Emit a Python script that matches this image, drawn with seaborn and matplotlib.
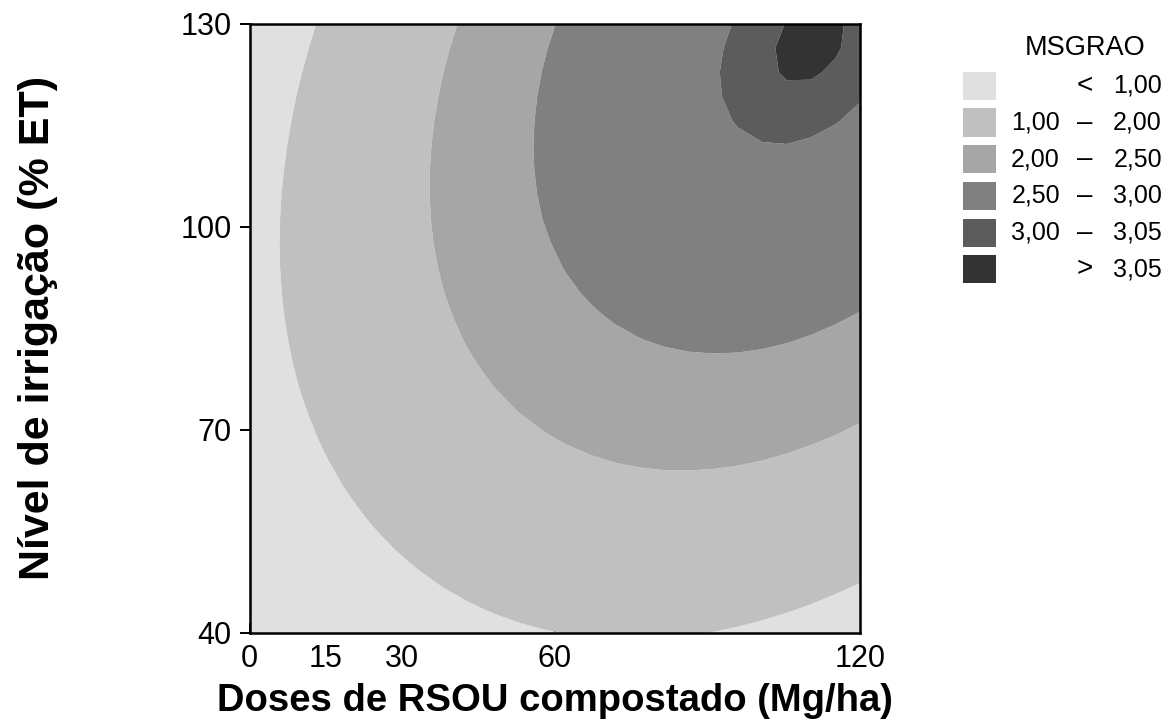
import numpy as np
import matplotlib
matplotlib.use("Agg")
import matplotlib.pyplot as plt
from matplotlib.patches import Rectangle
import seaborn as sns

# Quadratic response surface for grain dry matter (MSGRAO):
# MSGRAO = b0 + b1*D + b2*L + b3*D^2 + b4*L^2 + b5*D*L
# D = compost dose (Mg/ha), L = irrigation level (% ET)
b0 = -1.9889
b1 = 0.02549
b2 = 0.05734
b3 = -2.14e-4
b4 = -2.99e-4
b5 = 1.70e-4

dose_ticks = [0, 15, 30, 60, 120]
irrig_ticks = [40, 70, 100, 130]

level_bounds = [1.00, 2.00, 2.50, 3.00, 3.05]
band_colors = ["#e0e0e0", "#c0c0c0", "#a6a6a6", "#808080", "#5c5c5c", "#333333"]
legend_left = ["", "1,00", "2,00", "2,50", "3,00", ""]
legend_mid = ["<", "\u2013", "\u2013", "\u2013", "\u2013", ">"]
legend_right = ["1,00", "2,00", "2,50", "3,00", "3,05", "3,05"]

sns.set_theme(style="white")
plt.rcParams["font.family"] = ["Liberation Sans", "DejaVu Sans"]
plt.rcParams["text.color"] = "black"

W, H = 1172, 726
fig = plt.figure(figsize=(W / 100, H / 100), dpi=100)
fig.patch.set_facecolor("white")

ax_l, ax_r, ax_t, ax_b = 249.5, 860, 23.5, 633
ax = fig.add_axes([ax_l / W, 1 - ax_b / H, (ax_r - ax_l) / W, (ax_b - ax_t) / H])

d = np.linspace(0, 120, 26)
l = np.linspace(40, 130, 26)
DD, LL = np.meshgrid(d, l)
ZZ = b0 + b1 * DD + b2 * LL + b3 * DD**2 + b4 * LL**2 + b5 * DD * LL

levels = [-100] + level_bounds + [100]
ax.contourf(DD, LL, ZZ, levels=levels, colors=band_colors, antialiased=True)

ax.set_xlim(0, 120)
ax.set_ylim(40, 130)
ax.set_xticks(dose_ticks)
ax.set_yticks(irrig_ticks)
ax.set_xticklabels([str(v) for v in dose_ticks])
ax.set_yticklabels([str(v) for v in irrig_ticks])
ax.tick_params(axis="x", direction="in", length=7, width=1.4, color="black",
               labelcolor="black", labelsize=22, pad=8, bottom=True, top=False)
ax.tick_params(axis="y", direction="out", length=7, width=1.4, color="black",
               labelcolor="black", labelsize=22, pad=6, left=True, right=False)
for sp in ax.spines.values():
    sp.set_visible(True)
    sp.set_color("black")
    sp.set_linewidth(1.8)
ax.grid(False)

fig.text(554.5 / W, 1 - 701 / H, "Doses de RSOU compostado (Mg/ha)",
         ha="center", va="center", fontsize=27.5, fontweight="bold", color="black")
fig.text(38 / W, 1 - 328 / H, "Nível de irrigação (% ET)", rotation=90,
         ha="center", va="center", fontsize=31, fontweight="bold", color="black")

# legend
fig.text(1085.5 / W, 1 - 48 / H, "MSGRAO", ha="center", va="center",
         fontsize=19.5, color="black")
row0, step = 85.8, 36.7
for i, col in enumerate(band_colors):
    yc = row0 + i * step
    fig.add_artist(Rectangle((963 / W, 1 - (yc + 14) / H), 33 / W, 28 / H,
                             transform=fig.transFigure, facecolor=col,
                             edgecolor="none"))
    if legend_left[i]:
        fig.text(1060 / W, 1 - yc / H, legend_left[i], ha="right", va="center",
                 fontsize=18, color="black")
    fig.text(1085 / W, 1 - yc / H, legend_mid[i], ha="center", va="center",
             fontsize=20, color="black")
    fig.text(1162 / W, 1 - yc / H, legend_right[i], ha="right", va="center",
             fontsize=18, color="black")

fig.savefig("out.png", dpi=100, facecolor="white")
